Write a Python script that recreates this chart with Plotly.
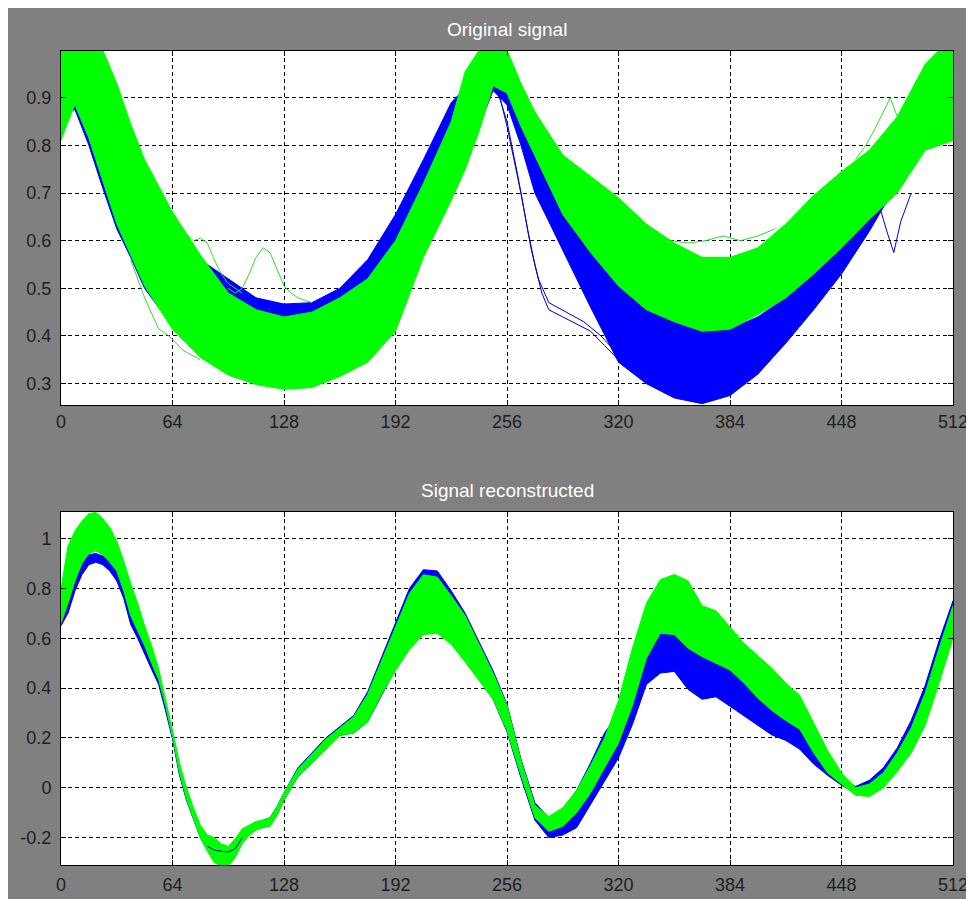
import plotly.graph_objects as go

# ---------------- data ----------------
x_ticks = [0, 64, 128, 192, 256, 320, 384, 448, 512]
x_tick_labels = ["0", "64", "128", "192", "256", "320", "384", "448", "512"]
top_y_ticks = [0.3, 0.4, 0.5, 0.6, 0.7, 0.8, 0.9]
top_y_tick_labels = ["0.3", "0.4", "0.5", "0.6", "0.7", "0.8", "0.9"]
bot_y_ticks = [-0.2, 0, 0.2, 0.4, 0.6, 0.8, 1]
bot_y_tick_labels = ["-0.2", "0", "0.2", "0.4", "0.6", "0.8", "1"]

# --- Original signal: envelopes of the blue and green bundles ---
top_x = [0, 4, 8, 16, 24, 32, 40, 48, 64, 80, 96, 112, 128, 144, 160, 176, 192,
         208, 224, 232, 240, 248, 256, 264, 272, 288, 304, 320, 336, 352, 368,
         384, 400, 416, 432, 448, 464, 480, 496, 504, 512]
top_green_upper = [1.0, 1.0, 1.0, 1.0, 1.0, 0.93, 0.845, 0.77, 0.66, 0.57, 0.49,
                   0.455, 0.44, 0.45, 0.48, 0.52, 0.60, 0.72, 0.85, 0.955, 1.0,
                   1.0, 1.0, 0.93, 0.87, 0.78, 0.735, 0.69, 0.635, 0.595, 0.565,
                   0.565, 0.585, 0.635, 0.695, 0.745, 0.79, 0.86, 0.97, 1.0, 1.0]
top_green_lower = [0.81, 0.85, 0.885, 0.815, 0.725, 0.635, 0.57, 0.505, 0.414,
                   0.355, 0.318, 0.298, 0.288, 0.292, 0.315, 0.345, 0.41, 0.565,
                   0.685, 0.75, 0.83, 0.925, 0.91, 0.84, 0.78, 0.655, 0.575,
                   0.505, 0.455, 0.43, 0.41, 0.414, 0.445, 0.48, 0.53, 0.585,
                   0.645, 0.70, 0.79, 0.80, 0.81]
top_blue_upper = [0.95, 0.97, 0.98, 0.95, 0.88, 0.80, 0.74, 0.69, 0.62, 0.56,
                  0.52, 0.48, 0.467, 0.47, 0.50, 0.56, 0.655, 0.77, 0.89, 0.92,
                  0.93, 0.945, 0.92, 0.84, 0.78, 0.66, 0.58, 0.51, 0.46, 0.43,
                  0.41, 0.415, 0.44, 0.48, 0.53, 0.585, 0.65, 0.72, 0.86, 0.93, 1.0]
top_blue_lower = [0.84, 0.87, 0.875, 0.80, 0.71, 0.625, 0.565, 0.50, 0.42, 0.36,
                  0.322, 0.30, 0.292, 0.296, 0.32, 0.35, 0.42, 0.575, 0.70, 0.76,
                  0.84, 0.915, 0.885, 0.80, 0.70, 0.58, 0.46, 0.345, 0.30, 0.27,
                  0.258, 0.275, 0.32, 0.385, 0.455, 0.53, 0.62, 0.72, 0.86, 0.89, 0.90]

# stray single traces (Original signal)
top_blue_stray1_x = [248, 252, 256, 260, 264, 268, 272, 276, 280, 288, 296, 304, 312, 320]
top_blue_stray1_y = [0.93, 0.90, 0.84, 0.77, 0.70, 0.62, 0.55, 0.49, 0.455, 0.44,
                     0.425, 0.41, 0.38, 0.35]
top_blue_stray2_x = [250, 256, 262, 266, 270, 274, 280, 290, 300, 310, 320]
top_blue_stray2_y = [0.92, 0.85, 0.74, 0.66, 0.58, 0.52, 0.47, 0.45, 0.43, 0.40, 0.36]
top_blue_stray3_x = [456, 464, 470, 474, 478, 482, 488]
top_blue_stray3_y = [0.60, 0.64, 0.67, 0.62, 0.575, 0.64, 0.70]
top_green_stray1_x = [96, 100, 104, 108, 112, 116, 120, 124, 128, 132, 136, 144]
top_green_stray1_y = [0.50, 0.49, 0.50, 0.53, 0.565, 0.585, 0.575, 0.54, 0.505, 0.49, 0.48, 0.47]
top_green_stray2_x = [64, 70, 76, 80, 84, 88, 92, 96, 104]
top_green_stray2_y = [0.65, 0.62, 0.60, 0.605, 0.595, 0.56, 0.53, 0.51, 0.49]
top_green_stray3_x = [40, 48, 56, 62, 70, 80]
top_green_stray3_y = [0.56, 0.48, 0.415, 0.40, 0.37, 0.35]
top_green_stray4_x = [330, 340, 350, 360, 370, 380, 390, 400, 410]
top_green_stray4_y = [0.65, 0.62, 0.60, 0.595, 0.60, 0.61, 0.60, 0.61, 0.625]
top_green_stray5_x = [456, 462, 468, 472, 476, 480, 486]
top_green_stray5_y = [0.77, 0.80, 0.84, 0.87, 0.90, 0.86, 0.87]

# --- Signal reconstructed: envelopes ---
bot_x = [0, 4, 8, 12, 16, 20, 24, 28, 32, 36, 40, 44, 48, 52, 56, 60, 64, 68, 72,
         76, 80, 84, 88, 92, 96, 100, 104, 108, 112, 116, 120, 124, 128, 136, 144,
         152, 160, 168, 176, 184, 192, 200, 208, 216, 224, 232, 240, 248, 256, 264,
         272, 280, 288, 296, 304, 312, 320, 328, 336, 344, 352, 360, 368, 376, 384,
         392, 400, 408, 416, 424, 432, 440, 448, 456, 464, 472, 480, 488, 496, 504, 512]
bot_green_upper = [0.80, 0.97, 1.03, 1.07, 1.10, 1.105, 1.08, 1.045, 0.99, 0.91,
                   0.82, 0.74, 0.65, 0.57, 0.48, 0.36, 0.23, 0.10, 0.0, -0.08,
                   -0.15, -0.19, -0.20, -0.225, -0.235, -0.205, -0.165, -0.15,
                   -0.135, -0.13, -0.12, -0.075, -0.02, 0.075, 0.135, 0.195, 0.24,
                   0.285, 0.375, 0.51, 0.645, 0.78, 0.855, 0.845, 0.77, 0.69, 0.575,
                   0.46, 0.33, 0.11, -0.07, -0.115, -0.08, -0.01, 0.09, 0.20, 0.35,
                   0.56, 0.74, 0.835, 0.856, 0.83, 0.73, 0.71, 0.645, 0.58, 0.53,
                   0.48, 0.42, 0.37, 0.26, 0.15, 0.06, 0.0, 0.015, 0.06, 0.14, 0.24,
                   0.38, 0.56, 0.73]
bot_green_lower = [0.66, 0.74, 0.83, 0.90, 0.94, 0.95, 0.935, 0.905, 0.87, 0.79,
                   0.69, 0.63, 0.57, 0.50, 0.435, 0.33, 0.205, 0.06, -0.045, -0.12,
                   -0.20, -0.255, -0.30, -0.315, -0.315, -0.28, -0.225, -0.19,
                   -0.17, -0.16, -0.155, -0.11, -0.05, 0.045, 0.10, 0.155, 0.21,
                   0.22, 0.265, 0.375, 0.47, 0.555, 0.615, 0.62, 0.575, 0.505, 0.43,
                   0.355, 0.23, 0.05, -0.12, -0.175, -0.155, -0.10, -0.02, 0.08,
                   0.18, 0.33, 0.52, 0.62, 0.615, 0.56, 0.526, 0.50, 0.473, 0.42,
                   0.36, 0.31, 0.27, 0.235, 0.14, 0.06, 0.015, -0.03, -0.035, 0.0,
                   0.065, 0.14, 0.25, 0.42, 0.60]
bot_blue_upper = [0.70, 0.80, 0.88, 0.92, 0.935, 0.94, 0.93, 0.91, 0.88, 0.82,
                  0.72, 0.66, 0.60, 0.52, 0.44, 0.34, 0.22, 0.08, -0.01, -0.09,
                  -0.16, -0.22, -0.24, -0.245, -0.245, -0.225, -0.18, -0.155,
                  -0.14, -0.13, -0.12, -0.075, -0.02, 0.08, 0.14, 0.20, 0.245,
                  0.29, 0.385, 0.525, 0.668, 0.80, 0.875, 0.87, 0.79, 0.70, 0.585,
                  0.47, 0.335, 0.115, -0.06, -0.12, -0.09, -0.01, 0.10, 0.22, 0.30,
                  0.45, 0.60, 0.64, 0.63, 0.57, 0.53, 0.51, 0.48, 0.45, 0.40, 0.35,
                  0.30, 0.26, 0.16, 0.08, 0.04, 0.005, 0.03, 0.08, 0.16, 0.27, 0.41,
                  0.59, 0.75]
bot_blue_lower = [0.65, 0.70, 0.79, 0.855, 0.895, 0.905, 0.895, 0.87, 0.83, 0.76,
                  0.655, 0.60, 0.54, 0.475, 0.415, 0.31, 0.195, 0.05, -0.05, -0.125,
                  -0.20, -0.25, -0.262, -0.265, -0.265, -0.255, -0.22, -0.185,
                  -0.165, -0.16, -0.15, -0.11, -0.05, 0.045, 0.10, 0.155, 0.21,
                  0.22, 0.265, 0.37, 0.475, 0.56, 0.62, 0.625, 0.58, 0.51, 0.435,
                  0.355, 0.225, 0.04, -0.13, -0.20, -0.19, -0.16, -0.068, 0.026,
                  0.12, 0.254, 0.414, 0.46, 0.467, 0.394, 0.355, 0.365, 0.326, 0.29,
                  0.25, 0.212, 0.19, 0.155, 0.095, 0.05, 0.01, -0.02, -0.02, 0.01,
                  0.08, 0.16, 0.27, 0.44, 0.62]
# blue traces showing through a gap of the green bundle near the first trough
bot_blue_gap_x = [84, 88, 92, 96, 100, 104]
bot_blue_gap_y = [-0.235, -0.25, -0.255, -0.258, -0.245, -0.20]

# ---------------- figure ----------------
BLUE = "#0000ff"
GREEN = "#00ff00"
STRAY_BLUE = "#0000c8"
STRAY_GREEN = "#2fdc2f"

fig = go.Figure()


def band(xs, up, lo, color, xa, ya):
    fig.add_trace(go.Scatter(
        x=list(xs) + list(xs)[::-1], y=list(up) + list(lo)[::-1],
        mode="lines", fill="toself", fillcolor=color,
        line=dict(color=color, width=1), hoverinfo="skip",
        showlegend=False, xaxis=xa, yaxis=ya))


def stray(xs, ys, color, xa, ya):
    fig.add_trace(go.Scatter(
        x=xs, y=ys, mode="lines", line=dict(color=color, width=1),
        hoverinfo="skip", showlegend=False, xaxis=xa, yaxis=ya))


# Original signal
band(top_x, top_blue_upper, top_blue_lower, BLUE, "x", "y")
stray(top_blue_stray1_x, top_blue_stray1_y, STRAY_BLUE, "x", "y")
stray(top_blue_stray2_x, top_blue_stray2_y, STRAY_BLUE, "x", "y")
stray(top_blue_stray3_x, top_blue_stray3_y, STRAY_BLUE, "x", "y")
band(top_x, top_green_upper, top_green_lower, GREEN, "x", "y")
for sx, sy in [(top_green_stray1_x, top_green_stray1_y),
               (top_green_stray2_x, top_green_stray2_y),
               (top_green_stray3_x, top_green_stray3_y),
               (top_green_stray4_x, top_green_stray4_y),
               (top_green_stray5_x, top_green_stray5_y)]:
    stray(sx, sy, STRAY_GREEN, "x", "y")

# Signal reconstructed
band(bot_x, bot_blue_upper, bot_blue_lower, BLUE, "x2", "y2")
band(bot_x, bot_green_upper, bot_green_lower, GREEN, "x2", "y2")
stray(bot_blue_gap_x, bot_blue_gap_y, STRAY_BLUE, "x2", "y2")

TICK_FONT = dict(family="Liberation Sans, Arial, sans-serif", size=18, color="#1e1e1e")

base_x = dict(range=[0, 512], tickmode="array", tickvals=x_ticks,
              ticktext=x_tick_labels, showgrid=True, gridcolor="#000000",
              gridwidth=1, griddash="4px,3px", showline=True, linecolor="#000000",
              linewidth=1, mirror="ticks", ticks="inside", ticklen=5,
              tickcolor="#000000", zeroline=False, tickfont=TICK_FONT)
common_y = dict(showgrid=True, gridcolor="#000000", gridwidth=1,
                griddash="4px,3px", showline=True, linecolor="#000000",
                linewidth=1, mirror="ticks", ticks="inside", ticklen=5,
                tickcolor="#000000", zeroline=False, tickfont=TICK_FONT,
                tickmode="array", ticklabelstandoff=5)

# the page adds an 8 px body margin, so the figure is placed accordingly
fig.update_layout(
    width=974, height=899,
    margin=dict(l=44, r=29, t=43, b=40),
    paper_bgcolor="#808080", plot_bgcolor="#ffffff",
    showlegend=False,
    xaxis=dict(domain=[0, 1], anchor="y", ticklabelstandoff=0, **base_x),
    yaxis=dict(domain=[0.565, 1], anchor="x", range=[0.255, 0.998],
               tickvals=top_y_ticks, ticktext=top_y_tick_labels, **common_y),
    xaxis2=dict(domain=[0, 1], anchor="y2", ticklabelstandoff=3, **base_x),
    yaxis2=dict(domain=[0, 0.4338], anchor="x2", range=[-0.31, 1.107],
                tickvals=bot_y_ticks, ticktext=bot_y_tick_labels, **common_y),
)

TITLE_FONT = dict(family="Liberation Sans, Arial, sans-serif", size=19, color="#ffffff")
fig.add_annotation(text="Original signal", xref="paper", yref="paper",
                   x=0.5, y=(859 - 21) / 816, xanchor="center", yanchor="middle",
                   showarrow=False, font=TITLE_FONT)
fig.add_annotation(text="Signal reconstructed", xref="paper", yref="paper",
                   x=0.5, y=(859 - 484) / 816, xanchor="center", yanchor="middle",
                   showarrow=False, font=TITLE_FONT)

fig.write_html("out.html")
